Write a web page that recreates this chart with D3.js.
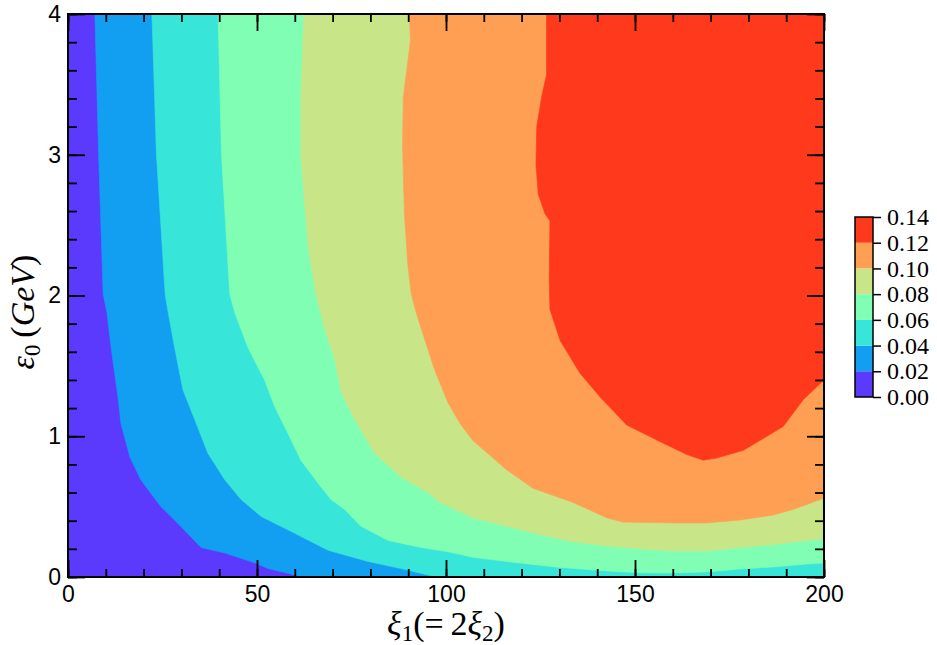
<!DOCTYPE html>
<html>
<head>
<meta charset="utf-8">
<script src="https://cdn.jsdelivr.net/npm/d3@7"></script>
<style>
  body { margin: 0; background: #fff; }
  .axis text { font-family: "Liberation Sans", Arial, sans-serif; font-size: 23px; fill: #000; }
  .axis line { stroke: #000; stroke-width: 1.8; }
  .cbar text { font-family: "Liberation Serif", "DejaVu Serif", serif; font-size: 24px; fill: #000; }
  .cbar line { stroke: #000; stroke-width: 1.5; }
  .title { font-family: "Liberation Serif", "DejaVu Serif", serif; fill: #000; }
</style>
</head>
<body>
<svg width="937" height="645"></svg>
<script>
// contour levels and fill colours (rainbow, 7 bands)
const levels = [0.00, 0.02, 0.04, 0.06, 0.08, 0.10, 0.12, 0.14];
const bandColors = ["#5b39fd", "#129ff1", "#37e6d8", "#80ffb4", "#c8e688", "#ff9f54", "#ff391c"];

const xMajor = [0, 50, 100, 150, 200];
const yMajor = [0, 1, 2, 3, 4];
const xMinor = d3.range(0, 201, 10);
const yMinor = d3.range(0, 4.01, 0.2);

// contour lines, [xi1, eps0]; region to the right is above the level
const c02 = [[7.1,4.0],[8.1,3.0],[9.3,2.01],[10.3,1.88],[11.4,1.63],[13.2,1.28],[14.0,1.09],[16.4,0.85],
  [19.3,0.69],[21.2,0.62],[24.6,0.50],[29.1,0.38],[35.2,0.21],[41.5,0.17],[49.5,0.10],[52.9,0.06],[60.1,0.014],[61.6,0]];
const c04 = [[22.2,4.0],[23.4,3.0],[25.7,2.01],[26.5,1.88],[28.2,1.63],[30.4,1.33],[33.5,1.12],[37.0,0.88],
  [41.5,0.69],[45.8,0.55],[51.1,0.43],[60.0,0.31],[68.8,0.19],[79.4,0.11],[88.1,0.06],[95.2,0.014],[97.4,0]];
const c06 = [[39.7,4.0],[40.6,3.0],[42.8,2.01],[44.1,1.88],[47.6,1.63],[52.0,1.40],[54.7,1.21],[58.2,1.02],
  [61.6,0.83],[66.9,0.64],[69.6,0.55],[73.2,0.48],[77.5,0.36],[84.7,0.26],[93.4,0.21],[100.5,0.18],[107.1,0.14],
  [116.1,0.11],[129.4,0.07],[142.6,0.043],[151.3,0.03],[160.1,0.028],[169.0,0.036],[177.8,0.057],[186.5,0.071],
  [195.5,0.092],[200,0.10]];
const c08 = [[62.4,4.0],[61.6,3.41],[61.6,3.0],[63.5,2.35],[65.6,2.01],[67.9,1.76],[70.6,1.54],[72.3,1.31],
  [75.8,1.12],[81.1,0.88],[88.1,0.71],[95.2,0.60],[98.4,0.53],[107.1,0.42],[116.1,0.36],[124.9,0.30],[133.6,0.25],
  [142.6,0.22],[151.3,0.20],[160.1,0.185],[169.0,0.185],[177.8,0.21],[186.5,0.23],[195.5,0.26],[200,0.27]];
const c10 = [[90.3,4.0],[90.6,3.81],[88.7,3.41],[88.5,3.06],[89.0,2.58],[89.9,2.22],[90.8,2.01],[92.2,1.87],
  [93.5,1.76],[97.0,1.47],[100.5,1.24],[103.7,1.09],[107.1,0.97],[116.1,0.76],[123.0,0.63],[133.6,0.53],
  [142.6,0.42],[146.8,0.39],[160.1,0.384],[169.0,0.384],[177.8,0.405],[186.5,0.44],[191.8,0.48],[200,0.56]];
const c12 = [[126.6,4.0],[126.6,3.57],[125.3,3.41],[124.0,3.20],[123.8,2.93],[124.4,2.72],[126.2,2.58],
  [127.5,2.53],[127.3,2.11],[127.5,1.90],[130.2,1.68],[135.4,1.45],[140.7,1.28],[147.8,1.08],[157.5,0.95],
  [163.7,0.87],[168.1,0.83],[171.6,0.845],[178.7,0.90],[189.2,1.07],[194.5,1.26],[200,1.40]];
const contourLines = [c02, c04, c06, c08, c10, c12];

const svg = d3.select("svg");
const margin = {top: 14, left: 68};
const width = 756, height = 563;
const xDom = [0, 200], yDom = [0, 4];

const x = d3.scaleLinear().domain(xDom).range([0, width]);
const y = d3.scaleLinear().domain(yDom).range([height, 0]);

const g = svg.append("g").attr("transform", `translate(${margin.left}, ${margin.top})`);

g.append("clipPath").attr("id", "plotclip")
  .append("rect").attr("width", width).attr("height", height);

const area = d3.line().x(d => x(d[0])).y(d => y(d[1]));

// close each contour along the right / bottom edges of the domain
function region(pts) {
  const last = pts[pts.length - 1];
  const poly = pts.slice();
  if (last[1] === yDom[0]) poly.push([xDom[1], yDom[0]]);
  poly.push([xDom[1], yDom[1]]);
  return poly;
}

const fills = g.append("g").attr("clip-path", "url(#plotclip)");
fills.append("path")
  .attr("d", area([[0,0],[200,0],[200,4],[0,4]]) + "Z")
  .attr("fill", bandColors[0]);

fills.selectAll(".band")
  .data(contourLines)
  .enter().append("path")
    .attr("class", "band")
    .attr("d", d => area(region(d)) + "Z")
    .attr("fill", (d, i) => bandColors[i + 1])
    .attr("stroke", (d, i) => bandColors[i + 1])
    .attr("stroke-width", 0.6);

// axes: major + minor ticks on all four sides, pointing inward
function addAxis(axisFn, scale, vals, size, labels, transform) {
  const a = axisFn(scale).tickValues(vals).tickSize(-size);
  if (labels) a.tickPadding(labels).tickFormat(d3.format("d"));
  else a.tickFormat("");
  const ax = g.append("g").attr("class", "axis").attr("transform", transform).call(a);
  ax.select(".domain").remove();
  return ax;
}
addAxis(d3.axisBottom, x, xMinor, 8, 0, `translate(0, ${height})`);
addAxis(d3.axisBottom, x, xMajor, 17, 9, `translate(0, ${height})`);
addAxis(d3.axisTop, x, xMinor, 8, 0, "translate(0, 0)");
addAxis(d3.axisTop, x, xMajor, 17, 0, "translate(0, 0)");
addAxis(d3.axisLeft, y, yMinor, 9, 0, "translate(0, 0)");
addAxis(d3.axisLeft, y, yMajor, 17, 7, "translate(0, 0)");
addAxis(d3.axisRight, y, yMinor, 9, 0, `translate(${width}, 0)`);
addAxis(d3.axisRight, y, yMajor, 17, 0, `translate(${width}, 0)`);

g.append("rect")
  .attr("width", width).attr("height", height)
  .attr("fill", "none").attr("stroke", "#000").attr("stroke-width", 2);

// axis titles
const xt = svg.append("text").attr("class", "title")
  .attr("x", margin.left + width / 2).attr("y", 635)
  .attr("text-anchor", "middle").attr("font-size", 34);
xt.append("tspan").attr("font-style", "italic").text("ξ");
xt.append("tspan").attr("font-size", 23).attr("dy", 6).text("1");
xt.append("tspan").attr("dy", -6).text("(=\u20092");
xt.append("tspan").attr("font-style", "italic").text("ξ");
xt.append("tspan").attr("font-size", 23).attr("dy", 6).text("2");
xt.append("tspan").attr("dy", -6).text(")");

const yt = svg.append("text").attr("class", "title")
  .attr("transform", "translate(34, 312) rotate(-90)")
  .attr("text-anchor", "middle").attr("font-size", 34);
yt.append("tspan").attr("font-style", "italic").text("ε");
yt.append("tspan").attr("font-size", 23).attr("dy", 6).text("0");
yt.append("tspan").attr("dy", -6).text("\u2009(");
yt.append("tspan").attr("font-style", "italic").text("GeV");
yt.append("tspan").text(")");

// colour bar
const cb = {left: 855, top: 217, width: 18, height: 180};
const yc = d3.scaleLinear().domain([levels[0], levels[levels.length - 1]])
  .range([cb.top + cb.height, cb.top]);

const cbar = svg.append("g").attr("class", "cbar");
cbar.selectAll("rect.cb")
  .data(bandColors)
  .enter().append("rect")
    .attr("class", "cb")
    .attr("x", cb.left)
    .attr("y", (d, i) => yc(levels[i + 1]))
    .attr("width", cb.width)
    .attr("height", (d, i) => yc(levels[i]) - yc(levels[i + 1]))
    .attr("fill", d => d);

cbar.append("g")
  .attr("transform", `translate(${cb.left + cb.width}, 0)`)
  .call(d3.axisRight(yc).tickValues(levels).tickSize(8).tickPadding(6).tickFormat(d3.format(".2f")))
  .select(".domain").remove();

cbar.append("rect")
  .attr("x", cb.left).attr("y", cb.top)
  .attr("width", cb.width).attr("height", cb.height)
  .attr("fill", "none").attr("stroke", "#000").attr("stroke-width", 1.5);
</script>
</body>
</html>
